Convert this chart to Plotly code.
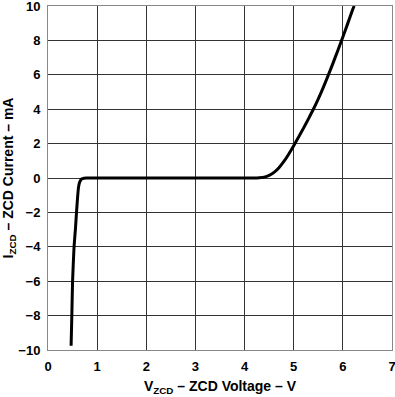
import plotly.graph_objects as go

voltage = [0.47, 0.485, 0.50, 0.53, 0.56, 0.58, 0.60, 0.62, 0.64, 0.66, 0.69, 0.73, 0.78, 1.5, 2.5, 3.5, 4.1,
           4.25, 4.3, 4.4, 4.5, 4.6, 4.7, 4.8, 4.9, 5.0, 5.1, 5.2, 5.3, 5.4, 5.5, 5.6, 5.7, 5.8, 5.9,
           6.0, 6.1, 6.2, 6.23]
current = [-9.75, -8.0, -6.0, -4.0, -2.9, -2.0, -1.2, -0.56, -0.28, -0.15, -0.05, -0.01, 0.0, 0.0, 0.0, 0.0, 0.0,
           0.0, 0.01, 0.05, 0.15, 0.33, 0.6, 0.96, 1.4, 1.88, 2.38, 2.9, 3.44, 4.0, 4.6, 5.25, 5.95, 6.68, 7.43,
           8.2, 8.99, 9.79, 10.0]

x_ticks = [0, 1, 2, 3, 4, 5, 6, 7]
y_ticks = [-10, -8, -6, -4, -2, 0, 2, 4, 6, 8, 10]


def lbl(v):
    return "<b>" + (str(v) if v >= 0 else "\u2212" + str(-v)) + "</b>"


fig = go.Figure()
fig.add_trace(go.Scatter(x=voltage, y=current, mode="lines",
                         line=dict(color="black", width=3, shape="spline", smoothing=0.4),
                         cliponaxis=True, showlegend=False))

fam = "Liberation Sans, Arial, sans-serif"
fig.update_layout(
    width=395, height=397,
    margin=dict(l=48, r=3, t=6, b=47),
    plot_bgcolor="white", paper_bgcolor="white",
    font=dict(family=fam, size=13, color="black"),
    xaxis=dict(range=[0, 7], tickvals=x_ticks, ticktext=[lbl(v) for v in x_ticks], automargin=False,
               showgrid=True, gridcolor="#333", gridwidth=1, ticklabeloverflow="allow",
               showline=True, linecolor="#888", linewidth=1, mirror=True, zeroline=False,
               ticks="", ticklabelstandoff=4,
               title=dict(text="<b>V<sub>ZCD</sub> – ZCD Voltage – V</b>", standoff=8,
                          font=dict(family=fam, size=14, color="black"))),
    yaxis=dict(range=[-10, 10], tickvals=y_ticks, ticktext=[lbl(v) for v in y_ticks], automargin=False,
               showgrid=True, gridcolor="#333", gridwidth=1, ticklabeloverflow="allow",
               showline=True, linecolor="#888", linewidth=1, mirror=True, zeroline=False,
               ticks="", ticklabelstandoff=4,
               title=dict(text="<b>I<sub>ZCD</sub> – ZCD Current – mA</b>", standoff=6,
                          font=dict(family=fam, size=14, color="black"))),
)
fig.write_html("out.html", config={"displayModeBar": False},
               post_script="document.body.style.margin='0';document.body.style.overflow='hidden';")
